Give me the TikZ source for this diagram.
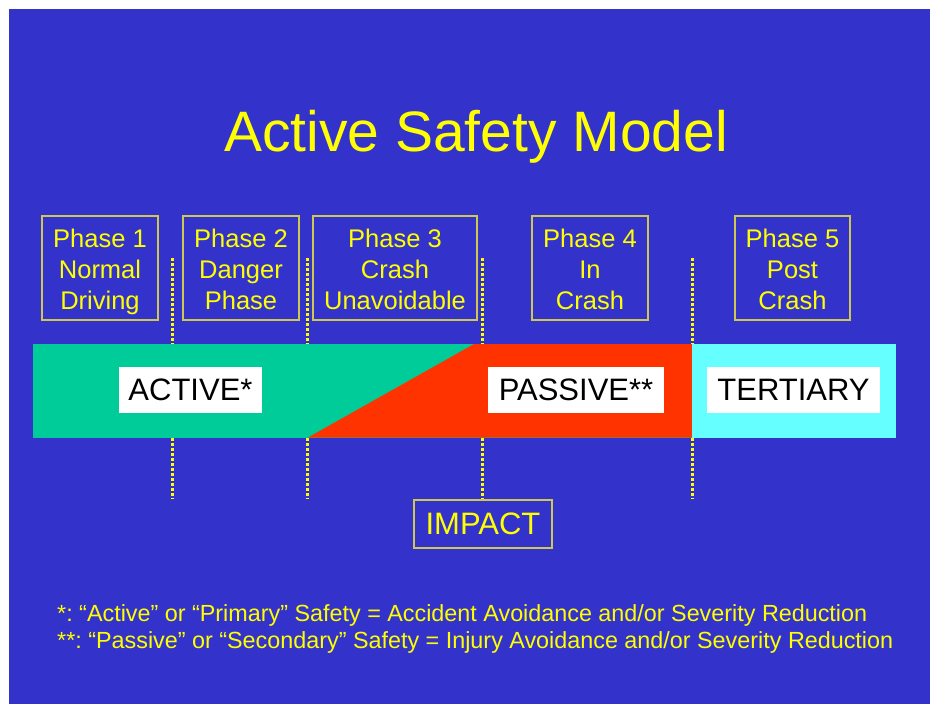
\documentclass[tikz,border=0pt]{standalone}
\usepackage{fontspec}
\setmainfont{Liberation Sans}
\frenchspacing
\definecolor{slideblue}{RGB}{51,51,204}
\definecolor{slideyellow}{RGB}{255,255,0}
\definecolor{boxline}{RGB}{206,200,80}
\definecolor{activegreen}{RGB}{0,204,153}
\definecolor{passivered}{RGB}{255,51,0}
\definecolor{tertiarycyan}{RGB}{102,255,255}
\begin{document}
\begin{tikzpicture}[x=1pt,y=-1pt,
  phasebox/.style={draw=boxline, line width=1.2pt, text=slideyellow,
    minimum height=104pt, inner sep=0pt, align=center,
    font=\fontsize{25.5}{31}\selectfont, text height=85pt, text depth=3pt},
  labelbox/.style={fill=white, text=black, minimum height=46pt, inner sep=0pt,
    font=\fontsize{31}{34}\selectfont},
  divider/.style={slideyellow, line width=3pt, dash pattern=on 3pt off 2pt},
  note/.style={anchor=base west, text=slideyellow, inner sep=0pt,
    font=\fontsize{23.35}{26}\selectfont}]
\useasboundingbox (0,0) rectangle (930,704);
% slide background
\fill[slideblue] (9,9) rectangle (930,704);

% title
\node[anchor=base, text=slideyellow, inner sep=0pt, font=\fontsize{57}{62}\selectfont]
  (title) at (476,151.7) {Active Safety Model};

% phase headers
\node[phasebox, minimum width=116pt] (p1) at (100,268) {Phase 1\\Normal\\Driving};
\node[phasebox, minimum width=116pt] (p2) at (241,268) {Phase 2\\Danger\\Phase};
\node[phasebox, minimum width=164pt] (p3) at (395,268) {Phase 3\\Crash\\Unavoidable};
\node[phasebox, minimum width=116pt] (p4) at (590,268) {Phase 4\\In\\Crash};
\node[phasebox, minimum width=115pt] (p5) at (792.5,268) {Phase 5\\Post\\Crash};

% phase boundaries
\coordinate (d1t) at (172.5,258); \coordinate (d1b) at (172.5,499);
\coordinate (d2t) at (307,258);   \coordinate (d2b) at (307,499);
\coordinate (d3t) at (482.5,258); \coordinate (d3b) at (482.5,499);
\coordinate (d4t) at (692,258);   \coordinate (d4b) at (692,499);
\draw[divider] (d1t) -- (d1b);
\draw[divider] (d2t) -- (d2b);
\draw[divider] (d3t) -- (d3b);
\draw[divider] (d4t) -- (d4b);

% safety bar
\fill[activegreen] (33,344) rectangle (692,437.5);
\fill[passivered] (308,437.5) -- (474,344) -- (692,344) -- (692,437.5) -- cycle;
\fill[tertiarycyan] (692,344) rectangle (896,437.5);

\node[labelbox, minimum width=143pt] (active) at (190.5,390) {ACTIVE*};
\node[labelbox, minimum width=176pt] (passive) at (576,390) {PASSIVE**};
\node[labelbox, minimum width=173pt] (tertiary) at (793.5,390) {TERTIARY};

% impact marker
\node[draw=boxline, line width=1.2pt, text=slideyellow, minimum width=138pt,
  minimum height=48pt, inner sep=0pt, font=\fontsize{31}{34}\selectfont]
  (impact) at (483,524) {IMPACT};

% footnotes
\node[note] (n1) at (57,621.7) {*: “Active” or “Primary” Safety = Accident Avoidance and/or Severity Reduction};
\node[note] (n2) at (57,648.3) {**: “Passive” or “Secondary” Safety = Injury Avoidance and/or Severity Reduction};
\end{tikzpicture}
\end{document}
